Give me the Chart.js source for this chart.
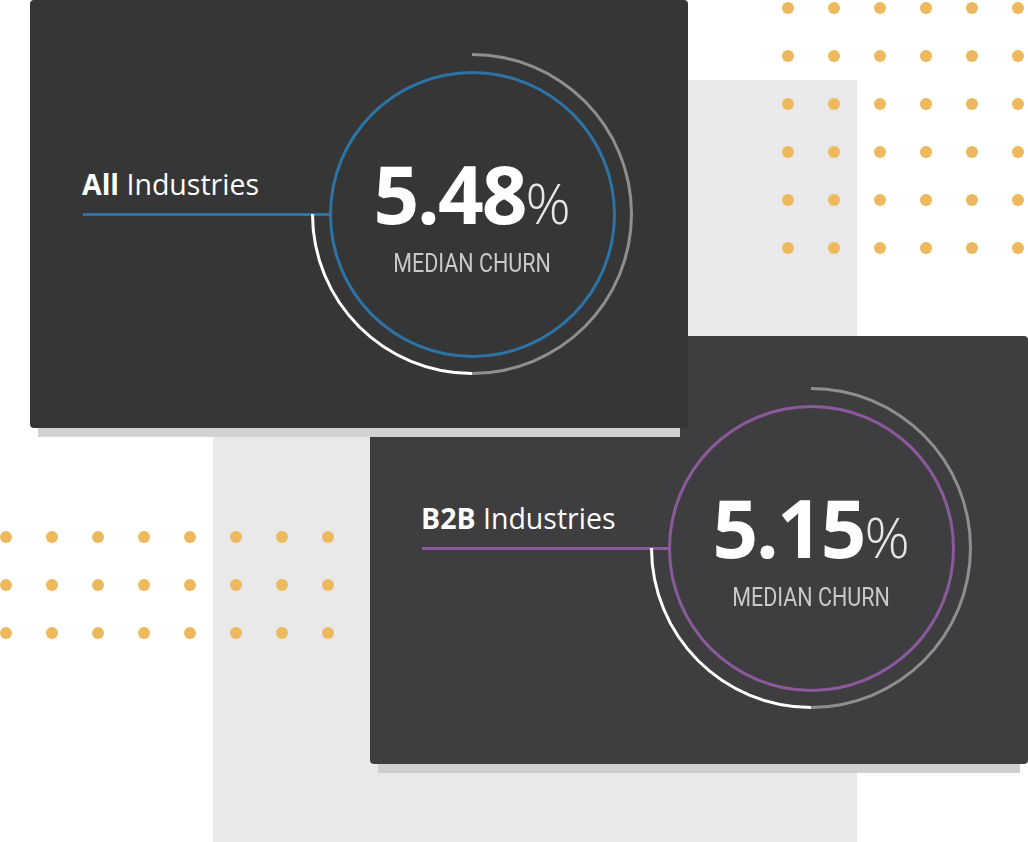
<!DOCTYPE html>
<html>
<head>
<meta charset="utf-8">
<script src="https://cdn.jsdelivr.net/npm/chart.js@4"></script>
<style>
    body { margin: 0; width: 1028px; height: 842px; background: #fff; position: relative; overflow: hidden; font-family: "Open Sans", sans-serif; }
    .abs { position: absolute; }
    .dot { position: absolute; width: 12px; height: 12px; border-radius: 50%; background: #eeb95c; }
    .label { position: absolute; color: #fff; font-size: 28.5px; white-space: nowrap; }
    .label b { font-weight: 700; }
    .value { position: absolute; color: #fff; font-size: 80px; font-weight: 700; text-align: center; white-space: nowrap; letter-spacing: -2px; }
    .value span { font-weight: 300; font-size: 56px; color: #e6e6e6; letter-spacing: 0; }
    .sub { position: absolute; color: #c9c9c9; font-family: Roboto, sans-serif; font-size: 25px; text-align: center; width: 300px; transform: scaleX(0.86); }
</style>
</head>
<body>
<div class="abs" style="left:213px;top:80px;width:644px;height:762px;background:#e9e9e9"></div>
<div id="dots"></div>
<div id="cards"></div>

<script>
const cardNames = ['Industries', 'Industries'];
const cardPrefixes = ['All', 'B2B'];
const medianChurn = [5.48, 5.15];
const ringColors = ['#2c73a6', '#8c5a9c'];
const ringParts = [50, 25, 25]; // gray, white, empty (clockwise from top)
const centers = [[472, 214], [811, 548]];
const cardBoxes = [[30, 0, '#363636', '#d2d2d2'], [370, 336, '#3e3e40', '#cfcfcf']];

// decorative dot grids
const dotsEl = document.getElementById('dots');
function dotGrid(xs, ys) {
    xs.forEach(x => ys.forEach(y => {
        const d = document.createElement('div');
        d.className = 'dot';
        d.style.left = (x - 6) + 'px';
        d.style.top = (y - 6) + 'px';
        dotsEl.appendChild(d);
    }));
}
dotGrid([788, 834, 880, 926, 972, 1018], [8, 56, 104, 152, 200, 248]);
dotGrid([6, 52, 98, 144, 190, 236, 282, 328], [537, 585, 633]);

function makeCard(i) {
    const [cx, cy] = centers[i];
    const [bx, by, bg, shadow] = cardBoxes[i];
    const host = document.createElement('div');
    host.className = 'abs';
    host.style.cssText = 'left:0;top:0;width:1028px;height:842px';
    document.getElementById('cards').appendChild(host);

    const sh = document.createElement('div');
    sh.className = 'abs';
    sh.style.cssText = `left:${bx + 8}px;top:${by + 418}px;width:642px;height:19px;background:${shadow}`;
    host.appendChild(sh);
    const box = document.createElement('div');
    box.className = 'abs';
    box.style.cssText = `left:${bx}px;top:${by}px;width:658px;height:428px;background:${bg};border-radius:4px`;
    host.appendChild(box);

    const line = document.createElement('div');
    line.className = 'abs';
    line.style.cssText = `left:${cx - 389}px;top:${cy - 1}px;width:${389 - 143}px;height:3px;background:${ringColors[i]}`;
    host.appendChild(line);

    const label = document.createElement('div');
    label.className = 'label';
    label.style.left = (cx - 390) + 'px';
    label.style.top = (cy - 49) + 'px';
    label.innerHTML = `<b>${cardPrefixes[i]}</b> ${cardNames[i]}`;
    host.appendChild(label);

    [['outer', 161, 158], ['inner', 143.5, 140.5]].forEach(([kind, r, cut]) => {
        const size = Math.round(r * 2);
        const c = document.createElement('canvas');
        c.className = 'abs';
        c.width = size; c.height = size;
        c.style.left = (cx - size / 2) + 'px';
        c.style.top = (cy - size / 2) + 'px';
        c.style.width = size + 'px';
        c.style.height = size + 'px';
        host.appendChild(c);
        new Chart(c, {
            type: 'doughnut',
            data: {
                datasets: [{
                    data: kind === 'outer' ? ringParts : [1],
                    backgroundColor: kind === 'outer' ? ['#8f8f8f', '#ffffff', 'rgba(0,0,0,0)'] : [ringColors[i]],
                    borderWidth: 0
                }]
            },
            options: {
                responsive: false,
                animation: false,
                layout: { padding: 0 },
                cutout: (cut / r * 100) + '%',
                events: [],
                plugins: { legend: { display: false }, tooltip: { enabled: false } }
            }
        });
    });

    const v = document.createElement('div');
    v.className = 'value';
    v.style.cssText = `left:${cx - 150}px;top:${cy - 66}px;width:300px;line-height:90px`;
    v.innerHTML = `${medianChurn[i].toFixed(2)}<span>%</span>`;
    host.appendChild(v);

    const s = document.createElement('div');
    s.className = 'sub';
    s.style.left = (cx - 150) + 'px';
    s.style.top = (cy + 35) + 'px';
    s.textContent = 'MEDIAN CHURN';
    host.appendChild(s);
}
// second card sits underneath the first
makeCard(1);
makeCard(0);
</script>
</body>
</html>
